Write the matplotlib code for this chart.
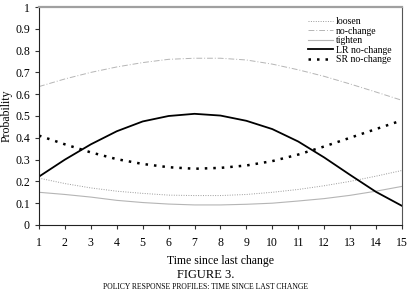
import numpy as np
import matplotlib
matplotlib.use("Agg")
import matplotlib.pyplot as plt
from matplotlib.ticker import FuncFormatter

plt.rcParams['font.family'] = ['Liberation Serif', 'DejaVu Serif']

t = np.arange(1, 16)
loosen = [0.215, 0.19, 0.17, 0.155, 0.145, 0.137, 0.135, 0.135, 0.14, 0.15, 0.163, 0.18, 0.2, 0.224, 0.25]
nochange = [0.635, 0.67, 0.70, 0.725, 0.745, 0.76, 0.765, 0.765, 0.757, 0.738, 0.712, 0.682, 0.647, 0.61, 0.572]
tighten = [0.15, 0.14, 0.128, 0.113, 0.103, 0.096, 0.092, 0.092, 0.095, 0.1, 0.11, 0.121, 0.136, 0.155, 0.177]
lr_nochange = [0.222, 0.30, 0.37, 0.43, 0.475, 0.50, 0.51, 0.502, 0.478, 0.44, 0.383, 0.31, 0.23, 0.152, 0.088]
sr_nochange = [0.41, 0.37, 0.333, 0.302, 0.28, 0.265, 0.258, 0.262, 0.273, 0.293, 0.323, 0.36, 0.40, 0.44, 0.48]

fig = plt.figure(figsize=(4.08, 2.92), dpi=100)
ax = fig.add_axes([0.0956, 0.2295, 0.8894, 0.7465])

ax.plot(t, loosen, color="#9a9a9a", ls=(0, (1, 1.5)), lw=0.7, label="loosen")
ax.plot(t, nochange, color="#b5b5b5", ls=(0, (6, 2, 1, 2)), lw=0.7, label="no-change")
ax.plot(t, tighten, color="#b5b5b5", ls="-", lw=0.8, label="tighten")
ax.plot(t, lr_nochange, color="black", ls="-", lw=1.3, label="LR no-change")
ax.plot(t, sr_nochange, color="black", ls=(0, (1, 2.4)), lw=1.8, label="SR no-change")

ax.set_xlim(1, 15)
ax.set_ylim(0, 1)
ax.set_xticks(t)
ax.set_yticks(np.arange(0, 1.01, 0.1))
ax.yaxis.set_major_formatter(FuncFormatter(lambda v, p: "%g" % round(v, 1)))
ax.tick_params(direction="out", length=3, width=0.8, labelsize=8.5, colors="#333333", labelcolor="black")
ax.tick_params(axis="x", pad=6)

ax.spines["left"].set_color("#222222")
ax.spines["bottom"].set_color("#222222")
ax.spines["top"].set_color("#a0a0a0")
ax.spines["top"].set_linewidth(1.6)
ax.spines["right"].set_color("#555555")
ax.spines["right"].set_linewidth(0.8)

ax.set_ylabel("Probability", fontsize=8.5, labelpad=2)
ax.set_xlabel("Time since last change", fontsize=8.5, labelpad=4)

leg = ax.legend(loc="upper right", bbox_to_anchor=(0.99, 0.985), frameon=False, fontsize=7,
                handlelength=2.6, handletextpad=0.3, labelspacing=0.05, borderpad=0.2)

fig.text(0.505, 0.058, "FIGURE 3.", ha="center", va="center", fontsize=9)
fig.text(0.505, 0.002, "POLICY RESPONSE PROFILES: TIME SINCE LAST CHANGE", ha="center", va="bottom", fontsize=5.5)

fig.savefig("out.png", dpi=100)
